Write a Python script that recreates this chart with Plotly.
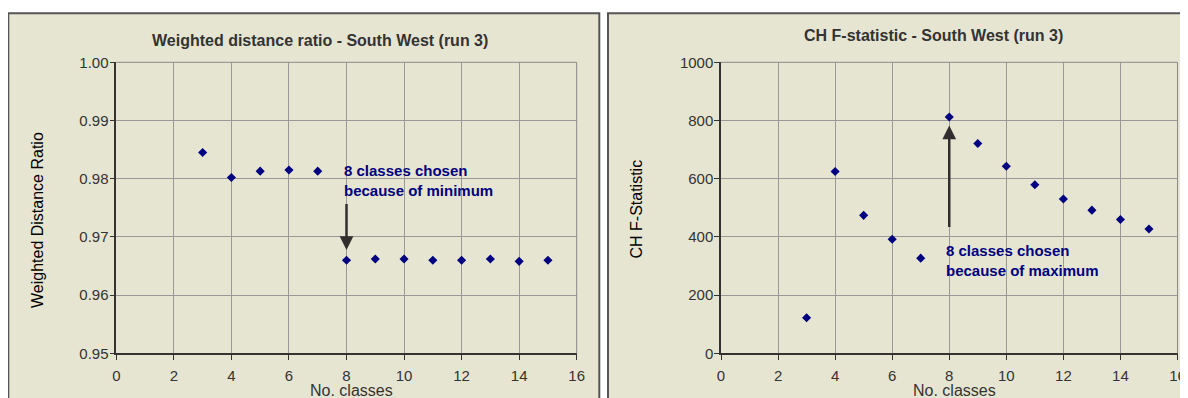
import plotly.graph_objects as go

# ---- data ----
classes = [3, 4, 5, 6, 7, 8, 9, 10, 11, 12, 13, 14, 15]
weighted_distance_ratio = [0.9845, 0.9802, 0.9813, 0.9815, 0.9813, 0.9660, 0.9662,
                           0.9662, 0.9660, 0.9660, 0.9662, 0.9658, 0.9660]
ch_f_statistic = [122, 625, 474, 392, 327, 812, 721, 643, 579, 530, 492, 460, 427]

left_title = "Weighted distance ratio - South West (run 3)"
right_title = "CH F-statistic - South West (run 3)"
left_ytitle = "Weighted Distance Ratio"
right_ytitle = "CH F-Statistic"
xtitle = "No. classes"
left_note = ["8 classes chosen", "because of minimum"]
right_note = ["8 classes chosen", "because of maximum"]

chosen_k = 8
left_arrow_tail, left_arrow_tip = 0.9759, 0.96775
right_arrow_tail, right_arrow_tip = 429, 783
left_note_y = [0.98149, 0.97794]
right_note_y = [354, 283]
note_x = 7.83

# The page body has an 8px margin, so the figure starts at page pixel (8, 8);
# positions below are given in page pixels and converted to figure fractions.
OFF = 8
W, H = 1188, 398
def px(x):
    return (x - OFF) / W
def py(y):
    return 1 - (y - OFF) / H

FONT = "Arial, Liberation Sans, sans-serif"
TXT = "#333333"
NAVY = "#000080"
BOXBG = "#E6E5D2"

fig = go.Figure()
fig.add_trace(go.Scatter(x=classes, y=weighted_distance_ratio, mode="markers",
                         marker=dict(symbol="diamond", size=7, color=NAVY),
                         xaxis="x", yaxis="y", showlegend=False, hoverinfo="x+y"))
fig.add_trace(go.Scatter(x=classes, y=ch_f_statistic, mode="markers",
                         marker=dict(symbol="diamond", size=7, color=NAVY),
                         xaxis="x2", yaxis="y2", showlegend=False, hoverinfo="x+y"))

ax_common = dict(showline=True, linecolor="#333333", linewidth=1.5, ticks="outside",
                 ticklen=5, tickcolor="#333333", tickwidth=1.2, showgrid=True,
                 gridcolor="#999999", gridwidth=1, zeroline=False, automargin=False,
                 tickfont=dict(family=FONT, size=15, color=TXT))

ydom = [py(353.3), py(62.3)]
fig.update_layout(
    width=W, height=H, autosize=False,
    margin=dict(l=0, r=0, t=0, b=0, pad=0, autoexpand=False),
    paper_bgcolor="white", plot_bgcolor="#C0C0C0",
    font=dict(family=FONT, color=TXT),
    xaxis=dict(domain=[px(116.3), px(576.7)], anchor="y", range=[0, 16], dtick=2,
               tick0=0, ticklabelstandoff=3, **ax_common),
    yaxis=dict(domain=ydom, anchor="x", range=[0.95, 1.0], dtick=0.01, tick0=0.95,
               tickformat=".2f", ticklabelstandoff=-2, **ax_common),
    xaxis2=dict(domain=[px(721), px(1177.5)], anchor="y2", range=[0, 16], dtick=2,
                tick0=0, ticklabelstandoff=3, **ax_common),
    yaxis2=dict(domain=ydom, anchor="x2", range=[0, 1000], dtick=200, tick0=0,
                ticklabelstandoff=-2, **ax_common),
)

shapes = [
    dict(type="rect", xref="paper", yref="paper", x0=px(8.3), x1=px(599.3),
         y0=-0.05, y1=py(13.3), fillcolor=BOXBG, line=dict(color="#555555", width=2),
         layer="below"),
    dict(type="rect", xref="paper", yref="paper", x0=px(608), x1=1.05,
         y0=-0.05, y1=py(13.3), fillcolor=BOXBG, line=dict(color="#555555", width=2),
         layer="below"),
]
for xa, ya in (("x", "y"), ("x2", "y2")):
    shapes.append(dict(type="line", xref=f"{xa} domain", yref=f"{ya} domain",
                       x0=0, x1=1, y0=1, y1=1, line=dict(color="#888888", width=1)))
    shapes.append(dict(type="line", xref=f"{xa} domain", yref=f"{ya} domain",
                       x0=1, x1=1, y0=0, y1=1, line=dict(color="#888888", width=1)))
fig.update_layout(shapes=shapes)

ann = []
ann.append(dict(text=f"<b>{left_title}</b>", xref="paper", yref="paper", x=px(320),
                y=py(40.7), showarrow=False, font=dict(size=16, color=TXT, family=FONT),
                xanchor="center", yanchor="middle"))
ann.append(dict(text=f"<b>{right_title}</b>", xref="paper", yref="paper", x=px(934),
                y=py(36), showarrow=False, font=dict(size=16, color=TXT, family=FONT),
                xanchor="center", yanchor="middle"))
ann.append(dict(text=left_ytitle, xref="paper", yref="paper", x=px(37), y=py(220),
                textangle=-90, showarrow=False, font=dict(size=16, color="#000000", family=FONT),
                xanchor="center", yanchor="middle"))
ann.append(dict(text=right_ytitle, xref="paper", yref="paper", x=px(636), y=py(209.5),
                textangle=-90, showarrow=False, font=dict(size=16, color="#000000", family=FONT),
                xanchor="center", yanchor="middle"))
ann.append(dict(text=xtitle, xref="paper", yref="paper", x=px(351), y=py(390),
                showarrow=False, font=dict(size=16, color=TXT, family=FONT),
                xanchor="center", yanchor="middle"))
ann.append(dict(text=xtitle, xref="paper", yref="paper", x=px(954), y=py(390),
                showarrow=False, font=dict(size=16, color=TXT, family=FONT),
                xanchor="center", yanchor="middle"))
for line, yv in zip(left_note, left_note_y):
    ann.append(dict(text=f"<b>{line}</b>", xref="x", yref="y", x=note_x, y=yv,
                    showarrow=False, font=dict(size=15, color=NAVY, family=FONT),
                    xanchor="left", yanchor="middle"))
for line, yv in zip(right_note, right_note_y):
    ann.append(dict(text=f"<b>{line}</b>", xref="x2", yref="y2", x=note_x, y=yv,
                    showarrow=False, font=dict(size=15, color=NAVY, family=FONT),
                    xanchor="left", yanchor="middle"))
ann.append(dict(text="", xref="x", yref="y", x=chosen_k, y=left_arrow_tip,
                axref="x", ayref="y", ax=chosen_k, ay=left_arrow_tail, showarrow=True,
                arrowhead=2, arrowsize=1.1, arrowwidth=2.5, arrowcolor="#332E2E"))
ann.append(dict(text="", xref="x2", yref="y2", x=chosen_k, y=right_arrow_tip,
                axref="x2", ayref="y2", ax=chosen_k, ay=right_arrow_tail, showarrow=True,
                arrowhead=2, arrowsize=1.1, arrowwidth=2.5, arrowcolor="#332E2E"))
fig.update_layout(annotations=ann)

fig.write_html("out.html", config={"displayModeBar": False})
